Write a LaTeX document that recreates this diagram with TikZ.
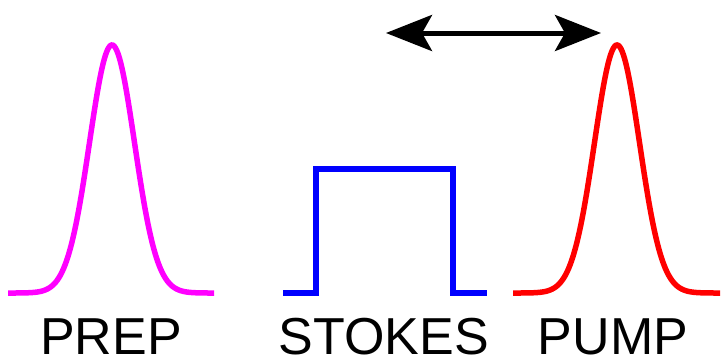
\documentclass[tikz,border=0pt]{standalone}
\usepackage{fontspec}
\setmainfont{Liberation Sans}
\usetikzlibrary{arrows.meta}

\definecolor{prepmagenta}{RGB}{255,0,255}
\definecolor{stokesblue}{RGB}{0,0,255}
\definecolor{pumpred}{RGB}{255,0,0}

\tikzset{
    pulse/.style={line width=5.5pt},
    pulselabel/.style={anchor=base, inner sep=0pt, font=\fontsize{52}{60}\selectfont},
}

\begin{document}
\begin{tikzpicture}[x=1pt, y=-1pt]

    % Fix the frame to the reference size
    \useasboundingbox (0,0) rectangle (721,362);

    % Prep pulse (magenta Gaussian)
    \draw[pulse, prepmagenta] plot[domain=-104:102, samples=160, smooth]
        ({112+\x},{293-248*exp(-((\x/22.5)^2)/2)});

    % Stokes pulse (blue square)
    \draw[pulse, stokesblue] (283,293) -- (316,293) -- (316,169) -- (453,169) -- (453,293) -- (487,293);

    % Pump pulse (red Gaussian)
    \draw[pulse, pumpred] plot[domain=-104:103, samples=160, smooth]
        ({617+\x},{293-248*exp(-((\x/22.5)^2)/2)});

    % Delay arrow
    \coordinate (delayL) at (386,33);
    \coordinate (delayR) at (601,33);
    \draw[line width=5pt, {Stealth[length=46pt, width=36pt, inset=10pt]}-{Stealth[length=46pt, width=36pt, inset=10pt]}]
        (delayL) -- (delayR);

    % Labels
    \node[pulselabel] (prep) at (111,354) {PREP};
    \node[pulselabel] (stokes) at (384,354) {STOKES};
    \node[pulselabel] (pump) at (613,354) {PUMP};

\end{tikzpicture}
\end{document}
